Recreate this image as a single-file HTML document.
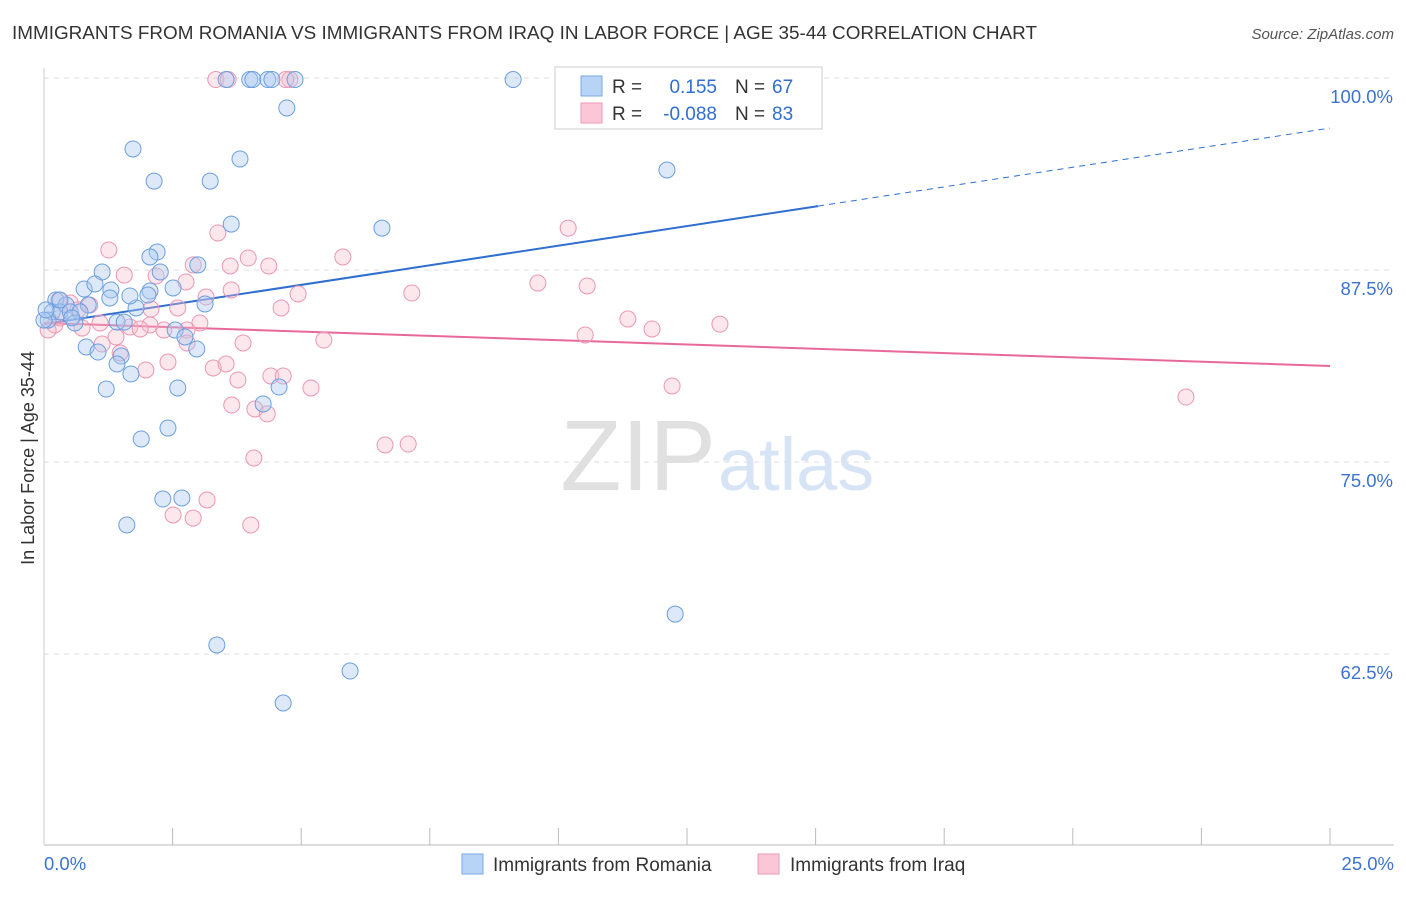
<!DOCTYPE html>
<html><head><meta charset="utf-8"><style>
body{margin:0;background:#fff;font-family:"Liberation Sans",sans-serif;}
svg text{font-family:"Liberation Sans",sans-serif;}
</style></head><body>
<svg id="chart" width="1406" height="892">
<text x="12" y="39" font-size="18.5" fill="#333" textLength="1025" lengthAdjust="spacingAndGlyphs">IMMIGRANTS FROM ROMANIA VS IMMIGRANTS FROM IRAQ IN LABOR FORCE | AGE 35-44 CORRELATION CHART</text>
<text x="1394" y="39" font-size="15" fill="#555" text-anchor="end" font-style="italic">Source: ZipAtlas.com</text>
<text x="34" y="458" font-size="18" fill="#333" text-anchor="middle" transform="rotate(-90 34 458)">In Labor Force | Age 35-44</text>
<g id="grid"></g>
<text x="716" y="490" font-size="100" fill="#e0e0e0" text-anchor="end" font-family="Liberation Serif">ZIP</text>
<text x="718" y="490" font-size="74" fill="#d6e4f6">atlas</text>
<g id="lines"></g>
<g id="pts"></g>
<g>
<rect x="555" y="67" width="267" height="62" fill="#fff" stroke="#ccc"/>
<rect x="581" y="76" width="21" height="20" fill="#b7d3f5" stroke="#7aa8e6"/>
<rect x="581" y="103" width="21" height="20" fill="#fbc6d6" stroke="#ee9ab5"/>
<text x="612" y="93" font-size="19" fill="#333">R =</text>
<text x="717" y="93" font-size="19" fill="#2f6fd0" text-anchor="end">0.155</text>
<text x="735" y="93" font-size="19" fill="#333">N =</text>
<text x="772" y="93" font-size="19" fill="#2f6fd0">67</text>
<text x="612" y="120" font-size="19" fill="#333">R =</text>
<text x="717" y="120" font-size="19" fill="#2f6fd0" text-anchor="end">-0.088</text>
<text x="735" y="120" font-size="19" fill="#333">N =</text>
<text x="772" y="120" font-size="19" fill="#2f6fd0">83</text>
</g>
<g>
<rect x="462" y="854" width="21" height="20" fill="#b7d3f5" stroke="#7aa8e6"/>
<text x="493" y="871" font-size="19" fill="#333">Immigrants from Romania</text>
<rect x="758" y="854" width="21" height="20" fill="#fbc6d6" stroke="#ee9ab5"/>
<text x="790" y="871" font-size="19" fill="#333">Immigrants from Iraq</text>
</g>
</svg>
<script>
const blueX=[3.54,4.00,4.06,4.35,4.43,4.88,9.12,4.72,1.73,3.81,2.14,3.23,12.11,3.64,6.57,2.20,2.06,2.26,1.13,2.99,0.78,1.30,0.99,2.51,2.06,0.23,1.28,0.43,0.86,1.79,3.13,0.16,0.31,0.51,0.70,0.08,0.60,1.42,1.56,2.55,2.74,0.82,1.05,2.97,1.50,1.42,1.69,1.21,2.60,4.57,4.26,1.89,2.41,2.31,2.68,1.61,12.27,3.36,5.95,4.65,0,0.31,0.54,0.04,2.02,1.67];
const blueY=[99.9,99.9,99.9,99.9,99.9,99.9,99.9,98.05,95.38,94.73,93.29,93.29,94.01,90.49,90.23,88.67,88.35,87.37,87.37,87.83,86.26,86.20,86.59,86.33,86.13,85.55,85.68,85.22,85.22,85.03,85.29,84.77,84.77,84.77,84.77,84.24,84.05,84.11,84.11,83.59,83.14,82.49,82.16,82.36,81.90,81.38,80.73,79.75,79.82,79.88,78.78,76.50,77.21,72.59,72.66,70.90,65.10,63.09,61.39,59.31,84.24,85.55,84.38,84.90,85.87,85.81];
const pinkX=[3.34,3.58,4.78,4.70,1.26,10.19,3.38,3.97,2.90,3.62,4.37,5.81,1.56,2.18,2.76,9.60,10.56,7.15,4.94,3.15,3.64,4.61,0.51,0.89,0.29,0.66,2.60,2.08,11.35,13.14,11.82,1.09,1.67,2.06,2.33,1.87,3.03,2.78,0.21,0.74,10.52,5.44,3.87,1.40,1.13,1.48,2.78,3.29,3.54,1.98,2.41,3.77,4.41,4.65,5.19,12.21,3.65,4.10,4.34,22.20,6.63,7.08,4.08,3.17,2.51,2.90,4.02,0.31,0.08];
const pinkY=[99.9,99.9,99.9,99.9,88.80,90.23,89.91,88.28,87.83,87.76,87.76,88.35,87.17,87.11,86.72,86.65,86.46,86.00,85.94,85.74,86.20,85.03,85.35,85.22,85.55,84.90,85.03,84.96,84.31,83.98,83.66,84.05,83.79,83.92,83.59,83.66,84.05,83.59,83.92,83.72,83.27,82.94,82.75,83.14,82.68,82.10,82.75,81.12,81.38,80.99,81.51,80.34,80.60,80.60,79.82,79.95,78.71,78.45,78.13,79.23,76.11,76.17,75.26,72.53,71.55,71.35,70.90,84.38,83.59];
const blueTrend=[83.98,96.74], pinkTrend=[84.05,81.25];
const yTicks=[100,87.5,75,62.5];
const yTickLabels=["100.0%","87.5%","75.0%","62.5%"];
const NS="http://www.w3.org/2000/svg";
const X=v=>44+v/25*1286, Y=v=>78+(100-v)*15.36;
function mk(t,a,p){const e=document.createElementNS(NS,t);for(const k in a)e.setAttribute(k,a[k]);p.appendChild(e);return e;}
const grid=document.getElementById('grid');
yTicks.forEach((t,i)=>{
 const l=mk('line',{x1:44,x2:1394,y1:Y(t),y2:Y(t),stroke:'#ddd','stroke-dasharray':'5,5'},grid);
 
 
 const tx=mk('text',{x:1393,y:Y(t)+25,'font-size':18.5,fill:'#3b73d1','text-anchor':'end'},grid);
 tx.textContent=yTickLabels[i];
 
 
});
const ax=mk('line',{x1:44,x2:1394,y1:845,y2:845,stroke:'#bbb'},grid);


const ay=mk('line',{x1:44,x2:44,y1:68,y2:845,stroke:'#ccc'},grid);


for(let i=1;i<=10;i++){const t=mk('line',{x1:X(i*2.5),x2:X(i*2.5),y1:828,y2:845,stroke:'#bbb'},grid);
 
 }
[["0.0%",44,'start'],["25.0%",1394,'end']].forEach(([s,x,a])=>{const t=mk('text',{x:x,y:870,'font-size':18.5,fill:'#3b73d1','text-anchor':a},grid);t.textContent=s;
 
 });
const lines=document.getElementById('lines');
const xs=15.05, ys=blueTrend[0]+(blueTrend[1]-blueTrend[0])*xs/25;
const b1=mk('line',{x1:X(0),y1:Y(blueTrend[0]),x2:X(xs),y2:Y(ys),stroke:'#2f6fd0','stroke-width':2},lines);


const b2=mk('line',{x1:X(xs),y1:Y(ys),x2:X(25),y2:Y(blueTrend[1]),stroke:'#2f6fd0','stroke-width':1,'stroke-dasharray':'6,5'},lines);


const p1=mk('line',{x1:X(0),y1:Y(pinkTrend[0]),x2:X(25),y2:Y(pinkTrend[1]),stroke:'#e8689a','stroke-width':2},lines);


const pts=document.getElementById('pts');
pinkX.forEach((x,i)=>{const c=mk('circle',{cx:X(x),cy:Y(pinkY[i]),r:8,fill:'rgba(247,185,204,0.35)',stroke:'#eb97b3','stroke-width':1},pts);
 
 });
blueX.forEach((x,i)=>{const c=mk('circle',{cx:X(x),cy:Y(blueY[i]),r:8,fill:'rgba(169,201,240,0.4)',stroke:'#6b9fe0','stroke-width':1},pts);
 
 });
</script>
</body></html>
